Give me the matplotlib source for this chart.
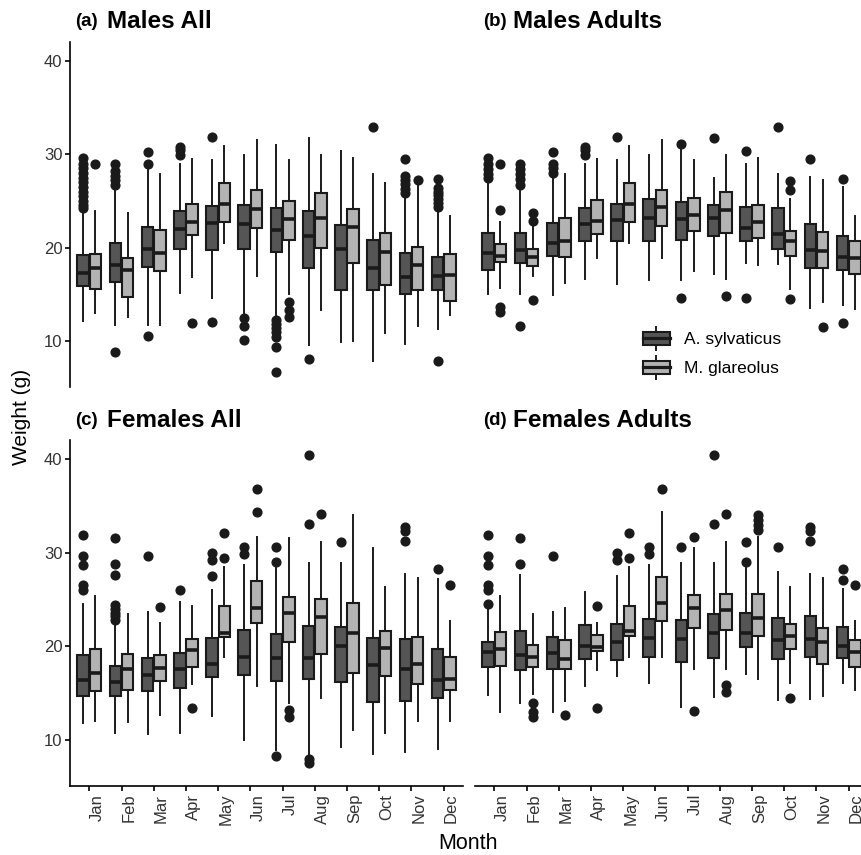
import matplotlib
matplotlib.use("Agg")
import matplotlib.pyplot as plt
import numpy as np
from matplotlib.legend_handler import HandlerBase
from matplotlib.patches import Rectangle, Patch
from matplotlib.lines import Line2D

plt.rcParams['font.family'] = ['Liberation Sans', 'DejaVu Sans']

months = ['Jan', 'Feb', 'Mar', 'Apr', 'May', 'Jun',
          'Jul', 'Aug', 'Sep', 'Oct', 'Nov', 'Dec']
species = ['A. sylvaticus', 'M. glareolus']
fills = ['#555555', '#b3b3b3']

# rows per month: [lower whisker, Q1, median, Q3, upper whisker]
males_all_syl = [
    [12.2, 15.9, 17.3, 19.2, 23.6], [11.7, 16.3, 18.15, 20.5, 26.1],
    [11.7, 17.9, 19.9, 22.2, 28.4], [15.2, 19.9, 22.0, 23.9, 28.9],
    [14.6, 19.8, 22.6, 24.5, 29.4], [12.6, 19.9, 22.5, 24.6, 29.9],
    [12.6, 19.5, 21.9, 24.2, 31.0], [9.6, 17.8, 21.3, 23.9, 31.7],
    [9.9, 15.5, 19.9, 22.4, 30.3], [7.9, 15.5, 17.8, 20.8, 27.9],
    [9.7, 15.1, 16.9, 19.4, 25.4], [11.3, 15.5, 17.0, 19.0, 24.1],
]
males_all_syl_out = [
    [24.2, 24.6, 25.0, 25.5, 26.0, 26.5, 27.0, 27.5, 28.0, 28.5, 29.0, 29.6],
    [8.8, 26.7, 27.2, 27.7, 28.2, 28.9], [10.6, 29.0, 30.2], [29.9, 30.4, 30.8],
    [12.1, 31.8], [10.1, 11.6, 12.5], [6.7, 9.4, 10.4, 11.0, 11.4, 11.85, 12.3],
    [8.1], [], [32.9], [25.8, 26.3, 26.8, 27.2, 27.7, 29.45],
    [7.9, 24.4, 24.8, 25.2, 25.6, 26.0, 26.4, 27.4],
]
males_all_gla = [
    [13.0, 15.55, 17.8, 19.3, 23.9], [12.6, 14.7, 17.6, 18.9, 23.7],
    [11.7, 17.5, 19.4, 21.85, 27.9], [16.9, 21.4, 22.8, 24.7, 29.5],
    [20.5, 22.7, 24.7, 26.9, 30.85], [17.0, 22.1, 24.1, 26.2, 31.5],
    [15.1, 20.85, 23.1, 25.0, 29.4], [13.35, 20.0, 23.2, 25.8, 29.9],
    [10.0, 18.4, 22.2, 24.1, 29.6], [10.9, 16.05, 19.5, 21.6, 26.9],
    [11.6, 15.5, 18.1, 20.1, 26.8], [12.85, 14.3, 17.1, 19.3, 23.4],
]
males_all_gla_out = [[29.0], [], [], [11.9], [], [], [12.56, 13.3, 14.16],
                     [], [], [], [27.2], []]

males_ad_syl = [
    [15.1, 17.6, 19.4, 21.6, 27.2], [15.0, 18.35, 19.7, 21.6, 26.1],
    [14.9, 19.15, 20.5, 22.6, 27.5], [16.6, 20.7, 22.5, 24.2, 28.9],
    [16.1, 20.75, 23.0, 24.7, 29.4], [16.5, 20.75, 23.2, 25.2, 29.9],
    [16.5, 20.85, 23.1, 24.9, 30.4], [17.2, 21.3, 23.2, 24.6, 27.5],
    [18.4, 20.75, 22.1, 24.4, 29.0], [18.3, 19.9, 21.5, 24.2, 27.9],
    [13.6, 17.8, 19.8, 22.5, 27.6], [13.9, 17.6, 19.0, 21.3, 26.5],
]
males_ad_syl_out = [
    [27.5, 27.9, 28.4, 29.0, 29.6], [11.6, 26.7, 27.4, 27.9, 28.4, 28.9],
    [28.0, 28.5, 29.0, 30.2], [29.9, 30.4, 30.8], [31.8], [], [14.6, 31.1],
    [31.7], [14.6, 30.3], [32.9], [29.45], [11.9, 27.4],
]
males_ad_gla = [
    [15.7, 18.5, 19.15, 20.4, 22.7], [17.0, 18.0, 19.0, 19.9, 22.5],
    [16.2, 19.0, 20.75, 23.2, 27.9], [18.9, 21.5, 22.9, 25.1, 29.5],
    [20.5, 22.7, 24.7, 26.9, 30.85], [18.9, 22.3, 24.4, 26.2, 31.5],
    [17.5, 21.75, 23.5, 25.3, 29.4], [16.6, 21.6, 24.0, 26.0, 29.9],
    [18.1, 21.0, 22.8, 24.6, 29.6], [15.6, 19.1, 20.7, 21.8, 25.2],
    [14.2, 17.8, 19.6, 21.7, 27.2], [13.45, 17.2, 18.9, 20.75, 23.4],
]
males_ad_gla_out = [[13.1, 13.7, 24.0, 29.0], [14.4, 22.9, 23.7], [], [], [],
                    [], [], [14.8], [], [14.55, 26.2, 27.1], [11.5], []]

females_all_syl = [
    [11.8, 14.75, 16.4, 19.1, 24.5], [10.8, 14.75, 16.24, 17.95, 22.36],
    [10.65, 15.28, 16.95, 18.7, 23.7], [10.8, 15.53, 17.55, 19.33, 24.7],
    [12.6, 16.7, 18.1, 20.86, 25.95], [10.0, 16.95, 18.84, 21.75, 28.7],
    [8.95, 16.35, 18.73, 21.3, 28.3], [8.2, 16.5, 18.8, 22.2, 28.9],
    [9.3, 16.24, 20.05, 22.1, 28.9], [8.5, 14.03, 18.0, 20.86, 30.5],
    [8.77, 14.2, 17.55, 20.76, 27.66], [9.05, 14.5, 16.45, 19.76, 27.16],
]
females_all_syl_out = [
    [26.0, 26.5, 28.65, 29.6, 31.9],
    [22.8, 23.2, 23.6, 24.0, 24.4, 27.6, 28.8, 31.5], [29.6], [25.95],
    [27.5, 29.2, 29.9], [29.8, 30.6], [8.3, 29.0, 30.6], [7.6, 7.95, 33.0, 40.4],
    [31.1], [], [31.25, 32.3, 32.7], [28.23],
]
females_all_gla = [
    [12.05, 15.2, 17.1, 19.7, 25.4], [11.9, 15.35, 17.55, 19.2, 23.46],
    [12.7, 16.35, 17.73, 19.08, 22.5], [15.95, 17.84, 19.6, 20.76, 24.3],
    [18.9, 21.04, 21.47, 24.3, 28.5], [15.8, 22.46, 24.07, 27.0, 31.7],
    [13.9, 20.5, 23.5, 25.3, 31.6], [14.5, 19.2, 23.1, 25.0, 31.1],
    [11.08, 17.1, 21.47, 24.6, 33.95], [10.7, 16.85, 19.8, 21.68, 26.3],
    [12.08, 16.0, 18.1, 21.04, 27.27], [12.08, 15.35, 16.5, 18.9, 22.7],
]
females_all_gla_out = [[], [], [24.15], [13.4], [29.4, 32.1], [34.35, 36.73],
                       [12.5, 13.2], [34.1], [], [], [], [26.5]]

females_ad_syl = [
    [14.8, 17.77, 19.37, 20.47, 24.0], [13.9, 17.48, 19.1, 21.6, 27.6],
    [13.04, 17.55, 19.33, 21.04, 23.7], [15.8, 18.62, 20.05, 22.3, 25.84],
    [16.84, 18.55, 20.5, 22.4, 27.5], [16.06, 18.9, 20.93, 22.9, 28.7],
    [13.57, 18.34, 20.8, 22.8, 28.9], [14.57, 18.8, 21.4, 23.46, 28.9],
    [17.06, 19.94, 21.4, 23.57, 28.5], [14.28, 18.62, 20.7, 23.07, 27.87],
    [14.35, 18.9, 20.8, 23.25, 27.66], [16.06, 18.7, 20.05, 22.04, 26.06],
]
females_ad_syl_out = [
    [24.5, 26.0, 26.5, 28.65, 29.6, 31.9], [28.8, 31.5], [29.6], [],
    [29.2, 29.9], [29.8, 30.6], [30.6], [33.0, 40.4], [29.0, 31.1], [30.54],
    [31.25, 32.3, 32.7], [27.1, 28.23],
]
females_ad_gla = [
    [13.04, 17.95, 19.7, 21.5, 25.4], [14.9, 17.77, 18.9, 20.1, 23.46],
    [14.17, 17.55, 18.62, 20.7, 24.06], [17.48, 19.5, 19.97, 21.2, 22.53],
    [18.9, 21.1, 21.68, 24.3, 28.5], [18.83, 22.7, 24.6, 27.44, 34.27],
    [17.63, 21.9, 24.1, 25.5, 30.5], [17.55, 21.75, 23.9, 25.6, 31.1],
    [16.56, 21.15, 23.0, 25.56, 31.7], [16.13, 19.7, 21.15, 22.43, 26.3],
    [14.7, 18.1, 20.44, 21.97, 27.27], [15.35, 17.77, 19.4, 20.7, 22.7],
]
females_ad_gla_out = [[], [12.5, 13.04, 14.0], [12.68], [13.4, 24.3],
                      [29.4, 32.1], [36.73], [13.1, 31.7], [15.17, 15.9, 34.1],
                      [32.4, 32.96, 33.5, 34.0], [14.53], [], [26.5]]

panels = [
    ('(a)', 'Males All', males_all_syl, males_all_syl_out, males_all_gla, males_all_gla_out),
    ('(b)', 'Males Adults', males_ad_syl, males_ad_syl_out, males_ad_gla, males_ad_gla_out),
    ('(c)', 'Females All', females_all_syl, females_all_syl_out, females_all_gla, females_all_gla_out),
    ('(d)', 'Females Adults', females_ad_syl, females_ad_syl_out, females_ad_gla, females_ad_gla_out),
]

W, H = 862, 855
ink = '#1a1a1a'


def px_rect(x0, y0, x1, y1):
    return [x0 / W, 1 - y1 / H, (x1 - x0) / W, (y1 - y0) / H]


def to_stats(rows, outs):
    return [dict(whislo=r[0], q1=r[1], med=r[2], q3=r[3], whishi=r[4], fliers=o)
            for r, o in zip(rows, outs)]


class BoxKey(HandlerBase):
    # ggplot-like legend key: box with median and short whiskers
    def create_artists(self, legend, orig_handle, xdescent, ydescent,
                       width, height, fontsize, trans):
        x0, y0 = -xdescent, -ydescent
        cx = x0 + width / 2
        box = Rectangle((x0, y0 + 0.2 * height), width, 0.6 * height,
                        facecolor=orig_handle.get_facecolor(), edgecolor=ink,
                        lw=1.5, transform=trans)
        med = Line2D([x0, x0 + width], [y0 + 0.5 * height] * 2, color=ink, lw=2.3, transform=trans)
        w1 = Line2D([cx, cx], [y0, y0 + 0.2 * height], color=ink, lw=1.4, transform=trans)
        w2 = Line2D([cx, cx], [y0 + 0.8 * height, y0 + height], color=ink, lw=1.4, transform=trans)
        return [box, med, w1, w2]


fig = plt.figure(figsize=(W / 100, H / 100), dpi=100)
rects = [(70, 42, 463, 387), (475, 42, 868, 387),
         (70, 440, 463, 786), (475, 440, 868, 786)]
x = np.arange(1, 13)
axes = []
for i, (tag, title, syl, syl_out, gla, gla_out) in enumerate(panels):
    ax = fig.add_axes(px_rect(*rects[i]))
    axes.append(ax)
    for rows, outs, off, col in [(syl, syl_out, -0.19, fills[0]), (gla, gla_out, 0.19, fills[1])]:
        ax.bxp(to_stats(rows, outs), positions=x + off, widths=0.36,
               patch_artist=True, showcaps=False, manage_ticks=False,
               boxprops=dict(facecolor=col, edgecolor=ink, lw=1.5),
               medianprops=dict(color=ink, lw=2.6, solid_capstyle='butt'),
               whiskerprops=dict(color=ink, lw=1.4),
               flierprops=dict(marker='o', markerfacecolor=ink, markeredgecolor=ink,
                               markersize=6.3))
    ax.set_xlim(0.4, 12.6)
    ax.set_ylim(5.1, 42.0)
    for s in ['top', 'right']:
        ax.spines[s].set_visible(False)
    ax.spines['left'].set_visible(i in (0, 2))
    ax.spines['bottom'].set_visible(i in (2, 3))
    for s in ['left', 'bottom']:
        ax.spines[s].set_linewidth(1.2)
        ax.spines[s].set_color('black')
    ax.set_yticks([10, 20, 30, 40])
    ax.set_xticks(x)
    ax.tick_params(direction='out', length=3.5, width=1.2, colors='black',
                   labelcolor='#333333', labelsize=12, pad=2)
    if i in (1, 3):
        ax.tick_params(axis='y', left=False, labelleft=False)
    if i in (0, 1):
        ax.tick_params(axis='x', bottom=False, labelbottom=False)
    else:
        ax.set_xticklabels(months, rotation=90, ha='left', va='top')
    ax.patch.set_alpha(0)

    tx = 75 if i in (0, 2) else 483
    tt = 107 if i in (0, 2) else 513
    ty = 22 if i < 2 else 420
    fig.text(tx / W, 1 - ty / H, tag, fontsize=13.5, fontweight='bold', va='center', ha='left')
    fig.text(tt / W, 1 - ty / H, title, fontsize=17.5, fontweight='bold', va='center', ha='left')

handles = [Patch(facecolor=c) for c in fills]
axes[1].legend(handles, species, handler_map={Patch: BoxKey()},
               loc='upper left', bbox_to_anchor=(643 / W, 1 - 327 / H),
               bbox_transform=fig.transFigure, frameon=False, fontsize=12.5,
               handlelength=1.55, handleheight=1.65, labelspacing=0.35,
               handletextpad=0.8, borderpad=0, borderaxespad=0)

fig.text(22 / W, 1 - 417 / H, 'Weight (g)', rotation=90, fontsize=15,
         va='center', ha='center')
fig.text(468 / W, 1 - 843 / H, 'Month', fontsize=15.5, va='center', ha='center')

fig.savefig('out.png', dpi=100)
